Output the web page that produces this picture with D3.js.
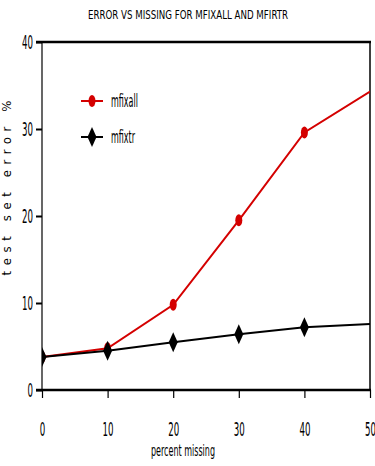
<!DOCTYPE html>
<html><head><meta charset="utf-8">
<script src="https://cdn.jsdelivr.net/npm/d3@7"></script>
<style>
body{margin:0;background:#fff;}
text{font-family:"DejaVu Sans Condensed","Liberation Sans Narrow","DejaVu Sans",sans-serif;fill:#000;}
</style></head><body>
<svg id="c" width="375" height="466"></svg>
<script>
const percentMissing = [0, 10, 20, 30, 40, 50];
const mfixall = [3.8, 4.8, 9.8, 19.5, 29.6, 34.3];
const mfixtr = [3.8, 4.5, 5.5, 6.4, 7.2, 7.6];
const xTicks = [0, 10, 20, 30, 40, 50];
const yTicks = [0, 10, 20, 30, 40];
const seriesNames = ["mfixall", "mfixtr"];
const seriesColors = ["#d40000", "#000000"];
const title = "ERROR VS MISSING FOR MFIXALL AND MFIRTR";

const svg = d3.select("#c");
const L = 42, R = 370, T = 42, B = 390;
const x = d3.scaleLinear().domain([0, 50]).range([L, R]);
const y = d3.scaleLinear().domain([0, 40]).range([B, T]);
const digitW = 5.5;

svg.append("text").attr("x", 188).attr("y", 19).attr("text-anchor", "middle")
  .attr("font-size", 13).attr("textLength", 200).attr("lengthAdjust", "spacingAndGlyphs").text(title);

// axes
const yAxis = svg.append("g").attr("transform", `translate(${L},0)`)
  .call(d3.axisLeft(y).tickValues(yTicks).tickSize(6).tickPadding(3).tickFormat(d3.format("d")));
yAxis.select(".domain").remove();
yAxis.selectAll("line").attr("stroke", "#000").attr("stroke-width", 2);
yAxis.selectAll("text").attr("font-size", 19).attr("dy", "0.36em")
  .attr("textLength", d => String(d).length * digitW).attr("lengthAdjust", "spacingAndGlyphs");

const xAxis = svg.append("g").attr("transform", `translate(0,${B})`)
  .call(d3.axisBottom(x).tickValues(xTicks).tickSize(8).tickPadding(31).tickFormat(d3.format("d")));
xAxis.select(".domain").remove();
xAxis.selectAll("line").attr("stroke", "#000").attr("stroke-width", 1.2);
xAxis.selectAll("text").attr("font-size", 19).attr("dy", "0.36em")
  .attr("textLength", d => String(d).length * digitW).attr("lengthAdjust", "spacingAndGlyphs");

// frame
svg.append("line").attr("x1", L - 6).attr("x2", R + 1).attr("y1", T).attr("y2", T).attr("stroke", "#000").attr("stroke-width", 2.5);
svg.append("line").attr("x1", L - 6).attr("x2", R + 1).attr("y1", B).attr("y2", B).attr("stroke", "#000").attr("stroke-width", 2.5);
svg.append("line").attr("x1", L).attr("x2", L).attr("y1", T).attr("y2", B).attr("stroke", "#000").attr("stroke-width", 1.2);
svg.append("line").attr("x1", R).attr("x2", R).attr("y1", T).attr("y2", B).attr("stroke", "#000").attr("stroke-width", 1.5);

// labels
svg.append("text").attr("x", 183).attr("y", 456).attr("text-anchor", "middle").attr("font-size", 15)
  .attr("textLength", 64).attr("lengthAdjust", "spacingAndGlyphs").text("percent missing");
svg.append("text").attr("transform", "translate(11,188) rotate(-90)").attr("text-anchor", "middle")
  .attr("font-family", "DejaVu Sans Mono").attr("font-size", 13).attr("textLength", 175)
  .attr("lengthAdjust", "spacing").text("test set error %");

svg.append("clipPath").attr("id", "clip").append("rect").attr("x", L).attr("y", T).attr("width", R - L).attr("height", B - T);
const plot = svg.append("g").attr("clip-path", "url(#clip)");
const line = d3.line().x((d, i) => x(percentMissing[i])).y(d => y(d));
const data = [mfixall, mfixtr];

data.forEach((vals, s) => {
  plot.append("path").datum(vals).attr("d", line).attr("fill", "none")
    .attr("stroke", seriesColors[s]).attr("stroke-width", 2);
});
const diamond = "M0,-10L4.5,0L0,10L-4.5,0Z";
function marker(g, s, cx, cy) {
  if (s === 0) g.append("ellipse").attr("cx", cx).attr("cy", cy).attr("rx", 3.5).attr("ry", 6).attr("fill", seriesColors[0]);
  else g.append("path").attr("d", diamond).attr("transform", `translate(${cx},${cy})`).attr("fill", "#000");
}
data.forEach((vals, s) => {
  vals.forEach((v, i) => { if (i < 5) marker(plot, s, x(percentMissing[i]), y(v)); });
});

// legend
const legendW = [27, 24];
seriesNames.forEach((n, s) => {
  const ly = 101 + s * 36;
  svg.append("line").attr("x1", 81).attr("x2", 103).attr("y1", ly).attr("y2", ly).attr("stroke", seriesColors[s]).attr("stroke-width", 2);
  marker(svg, s, 92, ly);
  svg.append("text").attr("x", 111).attr("y", ly + 6).attr("font-size", 17)
    .attr("textLength", legendW[s]).attr("lengthAdjust", "spacingAndGlyphs").text(n);
});
</script></body></html>
